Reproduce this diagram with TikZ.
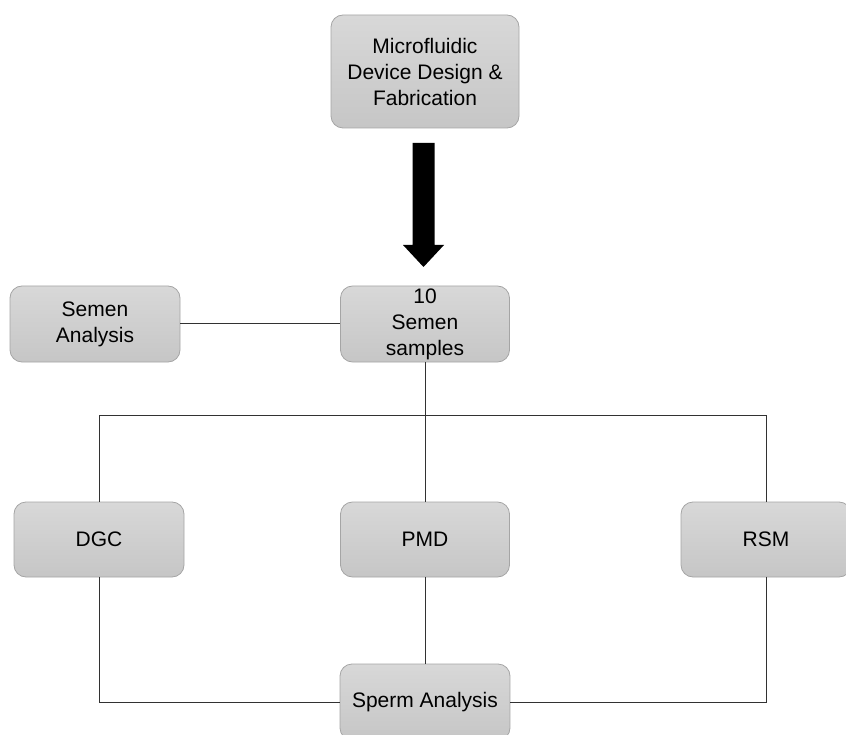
\documentclass[tikz,border=0pt]{standalone}
\usepackage{fontspec}
\setmainfont{Liberation Sans}
\definecolor{boxtop}{RGB}{216,216,216}
\definecolor{boxbot}{RGB}{198,198,198}
\definecolor{boxedge}{RGB}{165,165,165}
\definecolor{linec}{RGB}{50,50,50}
\begin{document}
\begin{tikzpicture}[x=1pt,y=-1pt,
  stepbox/.style={draw=boxedge, line width=0.8pt, rounded corners=12pt,
    top color=boxtop, bottom color=boxbot, inner sep=0pt, align=center,
    font=\fontsize{21}{26}\selectfont, text=black},
  conn/.style={draw=linec, line width=1pt}]
\useasboundingbox (0,0) rectangle (846,735);
\node[stepbox, minimum width=188pt, minimum height=113pt] (top) at (425,71.5) {Microfluidic\\Device Design \&\\Fabrication};
\node[stepbox, minimum width=170pt, minimum height=76pt] (sa) at (95,324) {Semen\\Analysis};
\node[stepbox, minimum width=169pt, minimum height=76pt] (ss) at (425,324) {10\\Semen\\samples};
\node[stepbox, minimum width=170pt, minimum height=75pt] (dgc) at (99,539.5) {DGC};
\node[stepbox, minimum width=169pt, minimum height=75pt] (pmd) at (425,539.5) {PMD};
\node[stepbox, minimum width=170pt, minimum height=75pt] (rsm) at (766,539.5) {RSM};
\node[stepbox, minimum width=170pt, minimum height=76pt] (sp) at (425,702) {Sperm Analysis};
% block arrow
\fill[black] (412.5,143) -- (434.5,143) -- (434.5,245) -- (444,245) -- (423.5,267) -- (403,245) -- (412.5,245) -- cycle;
% connectors
\coordinate (hy) at (0,415);
\draw[conn] (sa.east) -- (ss.west);
\draw[conn] (ss.south) -- (pmd.north);
\draw[conn] (dgc.north) -- (dgc.north |- hy) -- (rsm.north |- hy) -- (rsm.north);
\draw[conn] (pmd.south) -- (sp.north);
\draw[conn] (dgc.south) |- (sp.west);
\draw[conn] (rsm.south) |- (sp.east);
\end{tikzpicture}
\end{document}
